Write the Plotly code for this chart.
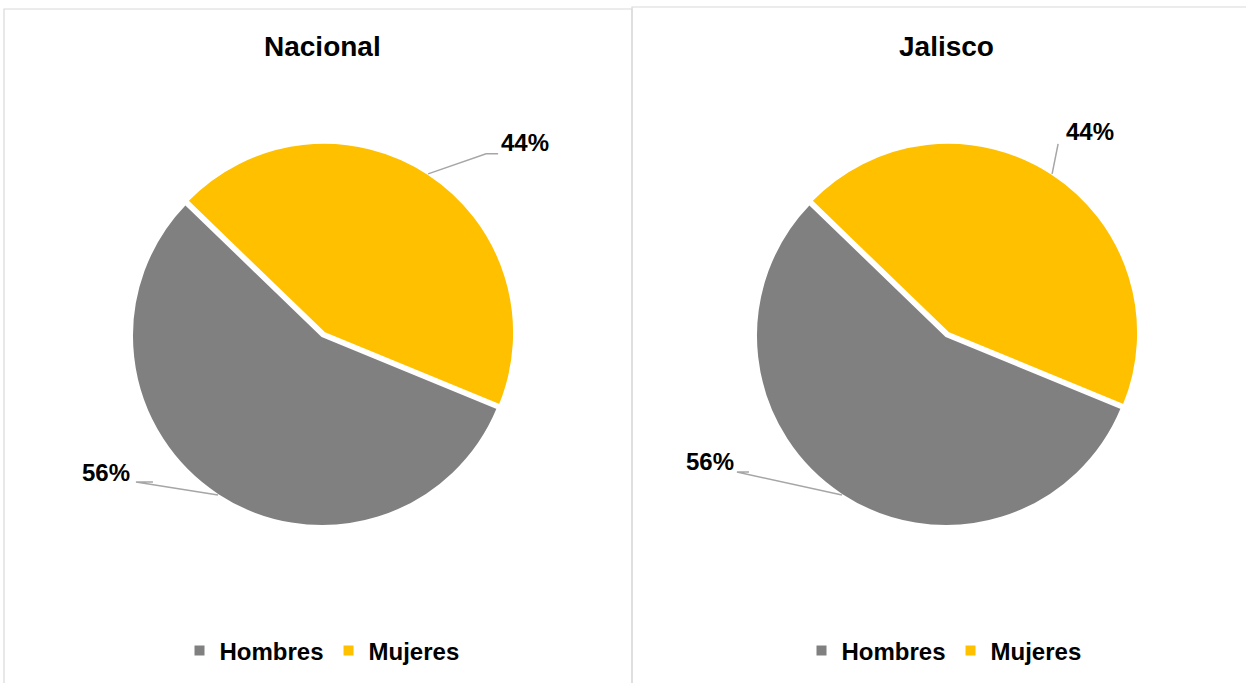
import math
import plotly.graph_objects as go

# ---- data ----
categories = ["Hombres", "Mujeres"]
nacional_values = [56, 44]
jalisco_values = [56, 44]
panel_titles = ["Nacional", "Jalisco"]

colors = ["#808080", "#FFC000"]
W, H = 1246, 683
FONT = "Liberation Sans, Arial, sans-serif"

fig = go.Figure()

def px(x):
    return x / W

def py(y):
    return 1 - y / H

# pie geometry (pixel space)
centers = [(322, 336), (946, 336)]
radius = 190
pulls = [0, 0.02]
rotation = 112.4  # clockwise degrees from 12 o'clock where first slice starts
# label offsets from slice anchor: (text dx, text dy, elbow list)
label_style = [
    {  # Nacional
        "Hombres": {"text": (-112, -22), "pts": [(-82, -13), (-65, -13)]},
        "Mujeres": {"text": (97, -31), "pts": [(58, -20), (70, -20)]},
    },
    {  # Jalisco
        "Hombres": {"text": (-132, -33), "pts": [(-105, -23), (-93, -23)]},
        "Mujeres": {"text": (38, -42), "pts": [(6, -30)]},
    },
]

shapes = []
annotations = []
legends = ["legend", "legend2"]
legend_x = [322, 944]

for i, vals in enumerate([nacional_values, jalisco_values]):
    cx, cy = centers[i]
    s = radius * (1 + max(pulls))
    # zero-width suffix keeps each panel's legend entries separate
    labels = [c + "\u200b" * i for c in categories]
    fig.add_trace(go.Pie(
        labels=labels,
        values=vals,
        sort=False,
        direction="clockwise",
        rotation=rotation,
        pull=pulls,
        marker=dict(colors=colors, line=dict(color="white", width=2)),
        textinfo="none",
        hoverinfo="label+percent",
        domain=dict(x=[px(cx - s), px(cx + s)], y=[py(cy + s), py(cy - s)]),
        legend=legends[i],
        showlegend=True,
    ))
    total = sum(vals)
    acc = 0
    for j, (lab, v) in enumerate(zip(categories, vals)):
        mid = math.radians(rotation + (acc + v / 2) / total * 360)
        acc += v
        R = radius * (1 + pulls[j])
        ax = cx + R * math.sin(mid)
        ay = cy - R * math.cos(mid)
        st = label_style[i][lab]
        pts = [(ax, ay)] + [(ax + dx, ay + dy) for dx, dy in st["pts"]]
        path = "M " + " L ".join(f"{px(x):.5f},{py(y):.5f}" for x, y in pts)
        shapes.append(dict(type="path", xref="paper", yref="paper", path=path,
                           line=dict(color="#A6A6A6", width=1.5)))
        tx, ty = ax + st["text"][0], ay + st["text"][1]
        annotations.append(dict(
            x=px(tx), y=py(ty), xref="paper", yref="paper",
            text=f"{v / total * 100:.0f}%", showarrow=False,
            xanchor="center", yanchor="middle",
            font=dict(family=FONT, size=24, color="black", weight="bold")))
    annotations.append(dict(
        x=px(cx), y=py(47), xref="paper", yref="paper",
        text=panel_titles[i], showarrow=False,
        xanchor="center", yanchor="middle",
        font=dict(family=FONT, size=28, color="black", weight="bold")))

# panel borders
shapes.append(dict(type="rect", xref="paper", yref="paper",
                   x0=px(4), x1=px(632), y0=py(690), y1=py(9),
                   line=dict(color="#D9D9D9", width=1.2), layer="below"))
shapes.append(dict(type="rect", xref="paper", yref="paper",
                   x0=px(632), x1=px(1252), y0=py(690), y1=py(7),
                   line=dict(color="#D9D9D9", width=1.2), layer="below"))

legend_common = dict(orientation="h", xanchor="center", yanchor="middle",
                     y=py(651),
                     font=dict(family=FONT, size=24, color="black", weight="bold"),
                     bgcolor="rgba(0,0,0,0)", itemwidth=30, traceorder="normal")

fig.update_layout(
    width=W, height=H,
    margin=dict(l=0, r=0, t=0, b=0),
    paper_bgcolor="white",
    plot_bgcolor="white",
    font=dict(family=FONT),
    shapes=shapes,
    annotations=annotations,
    legend=dict(x=px(legend_x[0]), **legend_common),
    legend2=dict(x=px(legend_x[1]), **legend_common),
)

fig.write_html("out.html", config={"displayModeBar": False},
               post_script="document.body.style.margin='0px';document.body.style.overflow='hidden';")
